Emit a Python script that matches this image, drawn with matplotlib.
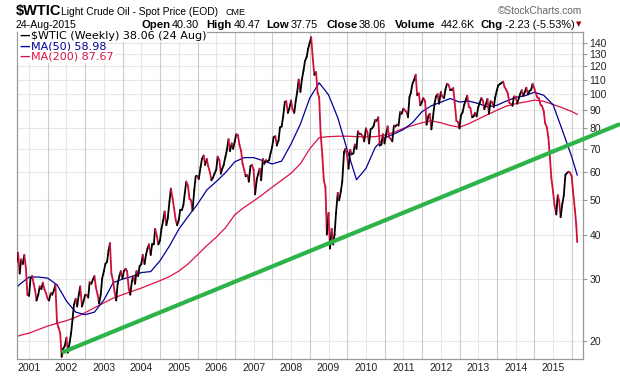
import numpy as np
import pandas as pd
import matplotlib
matplotlib.use('Agg')
import matplotlib.pyplot as plt
from matplotlib.collections import LineCollection
from matplotlib.ticker import FixedLocator, NullLocator

# $WTIC closes, about the 1st and 15th of each month (Sep 2000 - Aug 2015)
close = [
    33.4, 35.5, 31.0, 34.0, 33.0, 35.0, 32.0, 27.0,  # 2000
    26.8, 30.0, 30.5, 29.0, 27.8, 26.0, 27.0, 28.5, 28.0, 29.2, 27.9, 27.3,
    26.3, 26.0, 27.3, 27.0, 27.8, 28.8, 22.5, 21.8, 21.0, 18.0, 19.0, 19.3,  # 2001
    20.4, 18.5, 19.8, 21.0, 23.0, 25.3, 26.3, 25.0, 27.0, 28.5, 25.0, 25.8,
    26.9, 27.0, 26.5, 29.3, 29.0, 29.8, 30.5, 28.3, 27.0, 25.5, 27.0, 30.0,  # 2002
    31.5, 33.0, 33.5, 36.0, 37.8, 31.0, 29.5, 27.5, 26.0, 29.0, 30.5, 31.5,
    30.0, 31.5, 32.0, 31.5, 28.0, 27.0, 29.5, 30.5, 29.0, 31.5, 30.5, 32.5,  # 2003
    33.0, 35.0, 33.0, 35.0, 36.5, 37.5, 35.0, 37.5, 37.5, 41.5, 39.5, 37.5,
    38.5, 41.5, 43.8, 46.5, 42.5, 44.5, 49.5, 54.0, 50.5, 47.5, 44.0, 42.5,  # 2004
    44.0, 47.0, 47.0, 48.5, 52.5, 56.5, 55.0, 50.5, 50.0, 46.8, 53.5, 58.5,
    58.5, 57.5, 62.0, 65.5, 67.0, 63.0, 65.5, 62.5, 60.0, 57.0, 58.0, 59.5,  # 2005
    61.0, 66.5, 65.0, 59.5, 61.5, 63.0, 66.5, 69.5, 74.5, 69.0, 72.5, 70.0,
    73.5, 77.0, 76.5, 72.0, 69.0, 63.5, 61.0, 58.5, 59.0, 56.5, 62.5, 63.0,  # 2006
    61.0, 52.0, 57.5, 59.5, 61.5, 57.0, 65.5, 63.5, 65.0, 64.5, 65.0, 68.0,
    71.0, 75.5, 76.0, 71.5, 74.0, 80.5, 81.0, 86.0, 95.0, 95.5, 88.5, 91.0,  # 2007
    96.0, 90.5, 88.5, 95.5, 101.5, 110.0, 101.5, 110.0, 116.5, 124.0, 127.5, 134.5,
    140.0, 145.0, 125.0, 113.5, 115.5, 101.0, 98.0, 77.5, 67.0, 57.0, 54.5, 40.0,  # 2008
    46.0, 36.5, 41.5, 37.5, 40.0, 46.0, 52.5, 50.0, 53.0, 56.5, 68.5, 70.0,
    67.0, 61.5, 69.5, 67.5, 68.0, 72.0, 70.0, 78.5, 77.0, 77.0, 76.0, 73.5,  # 2009
    80.0, 78.0, 72.5, 79.5, 80.0, 81.0, 84.5, 84.0, 86.0, 71.5, 72.0, 77.0,
    72.5, 76.5, 81.0, 75.5, 74.5, 73.5, 81.5, 81.0, 82.0, 81.5, 89.0, 88.0,  # 2010
    91.0, 90.0, 89.0, 86.0, 98.0, 101.0, 107.5, 109.5, 113.5, 99.5, 100.5, 93.0,
    95.0, 97.5, 95.5, 82.0, 86.5, 88.0, 79.5, 85.5, 94.0, 98.5, 100.0, 94.0,  # 2011
    101.5, 98.5, 97.5, 103.0, 107.0, 106.5, 103.0, 103.0, 104.0, 95.0, 84.0, 83.5,
    80.0, 87.0, 89.0, 93.0, 96.5, 99.0, 92.0, 91.5, 86.0, 86.5, 88.5, 86.5,  # 2012
    91.8, 94.5, 97.5, 95.8, 90.7, 93.5, 97.0, 88.0, 95.5, 95.0, 91.9, 97.8,
    102.5, 105.9, 106.9, 107.5, 108.5, 104.7, 103.0, 100.8, 94.6, 93.8, 92.7, 98.5,  # 2013
    98.4, 94.0, 97.5, 100.3, 102.6, 98.9, 101.6, 104.3, 99.8, 102.0, 103.0, 106.9,
    104.1, 100.8, 97.9, 97.4, 93.3, 92.5, 89.7, 82.8, 80.5, 75.8, 66.2, 57.8,  # 2014
    52.7, 48.4, 45.6, 51.7, 49.8, 44.8, 48.9, 51.6, 59.1, 59.7, 60.3, 59.9,
    58.5, 52.8, 47.1, 42.5, 38.06,  # 2015
]

# moving averages (quarterly points)
ma50 = [
    28.3, 28.9,
    30.3, 30.3, 30.1, 28.8, 25.9, 24.1, 23.7, 24.1, 26.1, 29.2, 29.9, 30.4,
    31.2, 31.4, 33.7, 37.1, 41.4, 45.0, 48.7, 53.5, 56.5, 59.9, 64.3, 66.1,
    66.1, 64.8, 63.4, 64.6, 72.3, 82.3, 97.5, 107.7, 99.6, 85.8, 69.7, 57.2,
    61.6, 70.6, 75.2, 77.1, 79.4, 83.1, 89.2, 92.7, 94.9, 97.2, 95.0, 95.6,
    94.1, 92.0, 93.0, 95.6, 97.9, 99.0, 101.3, 99.3, 93.3, 79.0, 66.5, 58.98,
]
ma200 = [
    20.5, 20.7,
    21.0, 21.5, 22.0, 22.4, 22.8, 23.3, 24.0, 24.8, 25.6, 26.4, 27.0, 27.6,
    28.2, 28.9, 29.6, 30.4, 31.5, 33.0, 35.0, 37.2, 39.3, 41.8, 45.5, 47.8,
    49.8, 52.0, 54.5, 57.0, 59.7, 63.5, 70.0, 75.3, 75.8, 76.0, 76.0, 75.8,
    75.7, 75.8, 76.5, 78.0, 80.0, 81.5, 83.0, 84.0, 83.0, 81.5, 80.6, 82.5,
    85.0, 87.5, 90.0, 92.5, 94.0, 95.0, 96.2, 95.5, 93.5, 91.5, 89.3, 87.67,
]

# green trend line (analyst drawing)
trend_dates = ['2001-11-16', '2016-10-15']
trend_vals = [18.5, 82.3]

years = list(range(2001, 2016))
yticks = [20, 30, 40, 50, 60, 70, 80, 90, 100, 110, 120, 130, 140]


def dec_year(d):
    d = pd.Timestamp(d)
    return d.year + (d.dayofyear - 1) / 365.25


price_dates = list(pd.date_range('2000-09-01', '2015-08-15', freq='SMS')) + [pd.Timestamp('2015-08-24')]
ma_dates = ([pd.Timestamp('2000-09-01'), pd.Timestamp('2000-10-01')]
            + list(pd.date_range('2001-01-01', '2015-07-01', freq='QS'))
            + [pd.Timestamp('2015-08-24')])

px = np.array([dec_year(d) for d in price_dates])
mx = np.array([dec_year(d) for d in ma_dates])
tx = [dec_year(d) for d in trend_dates]
py = np.array(close)

W, H = 620, 376
fig = plt.figure(figsize=(W / 100, H / 100), dpi=100)
ax = fig.add_axes([16.7 / W, 1 - 359.3 / H, 566 / W, 327 / H])
ax.set_yscale('log')
ax.set_xlim(2000.67, 2015.79)
ax.set_ylim(17.71, 149.8)

# grid
for y in yticks:
    ax.axhline(y, color='#e6e6e6', lw=0.8, zorder=0)
for yr in years:
    ax.axvline(yr, color='#e6e6e6', lw=0.8, zorder=0)
    ax.axvline(yr - 0.5, color='#cccccc', lw=0.8, zorder=0)
ax.axvline(2015.5, color='#cccccc', lw=0.8, zorder=0)

# moving averages
ax.plot(mx, ma200, color='#dd1144', lw=0.9, zorder=2)
ax.plot(mx, ma50, color='#00009a', lw=0.9, zorder=2)

# price: black when rising, red when falling
pts = np.column_stack([px, py])
segs = np.stack([pts[:-1], pts[1:]], axis=1)
cols = ['black' if b >= a else '#d0103a' for a, b in zip(py[:-1], py[1:])]
ax.add_collection(LineCollection(segs, colors=cols, linewidths=1.3, zorder=3, capstyle='round'))

# trend line, runs past the frame
ax.plot(tx, trend_vals, color='#2db34a', lw=3.0, zorder=4, clip_on=False, solid_capstyle='butt')

for s in ax.spines.values():
    s.set_color('#999999')
    s.set_linewidth(0.9)

ax.yaxis.tick_right()
ax.yaxis.set_major_locator(FixedLocator(yticks))
ax.yaxis.set_minor_locator(NullLocator())
ax.set_yticklabels([str(v) for v in yticks])
ax.tick_params(axis='y', which='major', length=3, color='#999999', pad=2,
               labelsize=7.5, labelcolor='#222222')
ax.set_xticks(years)
ax.set_xticklabels([str(y) for y in years])
ax.xaxis.set_minor_locator(NullLocator())
ax.tick_params(axis='x', length=0, pad=3, labelsize=7.5, labelcolor='#222222')
for lab in ax.get_xticklabels() + ax.get_yticklabels():
    lab.set_fontfamily('Liberation Sans')

# legend lines inside plot
leg = [('$WTIC (Weekly) 38.06 (24 Aug)', 'black'),
       ('MA(50) 58.98', '#00009a'),
       ('MA(200) 87.67', '#dd1144')]
for i, (t, c) in enumerate(leg):
    yy = 1 - (36 + i * 10.4) / H
    fig.text(19 / W, yy, '\u2014', color=c, fontsize=8, fontweight='bold',
             va='center', family='DejaVu Sans',
             bbox=dict(facecolor='white', edgecolor='none', pad=0.6))
    fig.text(31 / W, yy, t, color=c, fontsize=8, va='center', family='DejaVu Sans',
             bbox=dict(facecolor='white', edgecolor='none', pad=0.6))


def ftext(x, y, s, **kw):
    fig.text(x / W, 1 - y / H, s, va='baseline', family='Liberation Sans', **kw)


# header
ftext(16, 15.5, '$WTIC', fontsize=10.5, fontweight='bold')
ftext(61, 15, 'Light Crude Oil - Spot Price (EOD)', fontsize=7.4)
ftext(226, 15, 'CME', fontsize=6.5)
ftext(582, 14, '\u00a9StockCharts.com', fontsize=7.3, color='#666666', ha='right')
ftext(16, 27.5, '24-Aug-2015', fontsize=7.6)

row = [(141.7, 'Open', True), (171.7, '40.30', False),
       (206.7, 'High', True), (233.3, '40.47', False),
       (266.7, 'Low', True), (291, '37.75', False),
       (326.7, 'Close', True), (358.3, '38.06', False),
       (395, 'Volume', True), (441, '442.6K', False),
       (480.7, 'Chg', True), (505, '-2.23 (-5.53%)', False)]
for x, t, b in row:
    ftext(x, 27.5, t, fontsize=8.2 if b else 7.8, fontweight='bold' if b else 'normal')
fig.text(576 / W, 1 - 24 / H, '\u25bc', color='#990000', fontsize=5, va='center',
         family='DejaVu Sans')

fig.savefig('out.png', dpi=100)
